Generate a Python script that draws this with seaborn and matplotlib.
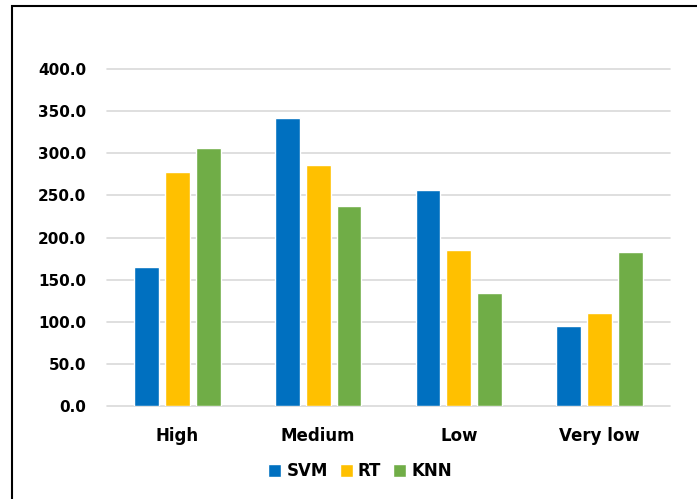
import pandas as pd
import matplotlib.pyplot as plt
import seaborn as sns
from matplotlib.patches import Rectangle, Patch

categories = ['High', 'Medium', 'Low', 'Very low']
models = ['SVM', 'RT', 'KNN']
svm_values = [165.0, 341.5, 256.5, 95.0]
rt_values = [278.0, 285.5, 185.0, 110.5]
knn_values = [306.0, 237.0, 134.0, 183.0]
colors = ['#0070C0', '#FFC000', '#70AD47']

rows = []
for model, vals in zip(models, [svm_values, rt_values, knn_values]):
    for cat, v in zip(categories, vals):
        rows.append([cat, model, v])
df = pd.DataFrame(rows, columns=['Level', 'Model', 'Value'])

sns.set_style('white')
plt.rcParams['font.family'] = ['DejaVu Sans']
plt.rcParams['font.weight'] = 'bold'
plt.rcParams['text.color'] = 'black'
plt.rcParams['xtick.color'] = 'black'
plt.rcParams['ytick.color'] = 'black'

fig = plt.figure(figsize=(6.97, 4.99), dpi=100)
ax = fig.add_axes([107 / 697, 1 - 406 / 499, (670 - 107) / 697, (406 - 69) / 499])

sns.barplot(data=df, x='Level', y='Value', hue='Model', order=categories,
            hue_order=models, palette=colors, width=0.66, gap=0.2,
            saturation=1, ax=ax, legend=False, errorbar=None)

ax.set_ylim(0, 400)
ax.set_xlim(-0.5, 3.5)
ax.set_yticks(range(0, 401, 50))
ax.set_yticklabels([f'{v:.1f}' for v in range(0, 401, 50)], fontsize=11, fontweight='bold')
ax.set_xticklabels(categories, fontsize=12, fontweight='bold')
ax.tick_params(axis='y', length=0, pad=15, labelcolor='black')
ax.tick_params(axis='x', length=0, pad=15, labelcolor='black')
ax.yaxis.grid(True, color='#D9D9D9', linewidth=1.2)
for gl in ax.get_ygridlines():
    gl.set_clip_on(False)
ax.set_axisbelow(True)
for s in ax.spines.values():
    s.set_visible(False)
ax.set_xlabel('')
ax.set_ylabel('')

handles = [Patch(facecolor=c, label=m) for c, m in zip(colors, models)]
leg = fig.legend(handles=handles, loc='center', bbox_to_anchor=(360 / 697, 1 - 471 / 499),
                 ncol=3, frameon=False, handlelength=0.8, handleheight=0.8,
                 handletextpad=0.3, columnspacing=0.7, prop={'weight': 'bold', 'size': 12})
for t in leg.get_texts():
    t.set_color('black')

# outer chart border (only left and top edges visible in the crop)
fig.patches.append(Rectangle((12 / 697, -0.1), 1.2, 1 - 6 / 499 + 0.1,
                             transform=fig.transFigure, fill=False,
                             edgecolor='black', linewidth=1.5))

fig.savefig('out.png', dpi=100)
